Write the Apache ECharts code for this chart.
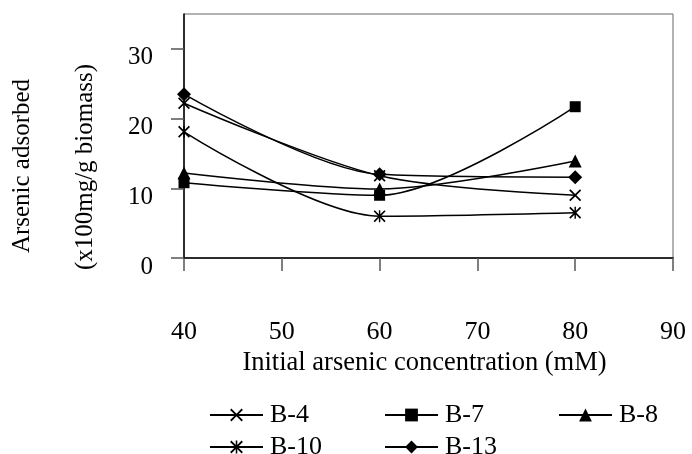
<!DOCTYPE html>
<html>
<head>
<meta charset="utf-8">
<script src="https://cdn.jsdelivr.net/npm/echarts@6/dist/echarts.min.js"></script>
<style>
html,body{margin:0;padding:0;background:#fff;}
#chart{width:692px;height:454px;}
</style>
</head>
<body>
<div id="chart"></div>
<script>
var xValues = [40, 60, 80];
var seriesNames = ['B-4', 'B-7', 'B-8', 'B-10', 'B-13'];
var b4  = [22.2, 11.8, 9.0];
var b7  = [10.8, 9.0, 21.7];
var b8  = [12.2, 9.9, 13.9];
var b10 = [18.1, 6.0, 6.5];
var b13 = [23.5, 12.0, 11.6];
var yTicks = [0, 10, 20, 30];
var xTicks = [40, 50, 60, 70, 80, 90];

var FONT = '"Liberation Serif", "Times New Roman", serif';
var FS = 25;
var FSX = 26.5;

var crossPath = 'path://M0,1L1,0L5,4L9,0L10,1L6,5L10,9L9,10L5,6L1,10L0,9L4,5Z';
var starPath = 'path://M0,1L1,0L5,4L9,0L10,1L6,5L10,9L9,10L5,6L1,10L0,9L4,5Z M4.4,0L5.6,0L5.6,10L4.4,10Z';

function pairs(vals) {
  return xValues.map(function (x, i) { return [x, vals[i]]; });
}

var symbols = {
  'B-4': {symbol: crossPath, size: 12},
  'B-7': {symbol: 'rect', size: 11},
  'B-8': {symbol: 'triangle', size: 13},
  'B-10': {symbol: starPath, size: 12},
  'B-13': {symbol: 'diamond', size: 14}
};
var values = {'B-4': b4, 'B-7': b7, 'B-8': b8, 'B-10': b10, 'B-13': b13};

var series = seriesNames.map(function (n) {
  return {
    name: n,
    type: 'line',
    smooth: 0.3,
    data: pairs(values[n]),
    symbol: symbols[n].symbol,
    symbolSize: symbols[n].size,
    showAllSymbol: true,
    lineStyle: {color: '#000', width: 1.5},
    itemStyle: {color: '#000', borderWidth: 0},
    emphasis: {disabled: true},
    animation: false
  };
});

function legendFor(name, left, top) {
  return {
    data: [name],
    orient: 'horizontal',
    left: left,
    top: top,
    itemWidth: 53,
    itemHeight: 16,
    padding: 0,
    textStyle: {fontFamily: FONT, fontSize: 26, color: '#000', padding: [0, 0, 0, 2]},
    selectedMode: false
  };
}

var option = {
  animation: false,
  backgroundColor: '#fff',
  grid: {left: 184, top: 14, right: 19, bottom: 196, show: true, borderColor: '#666', borderWidth: 1},
  xAxis: {
    type: 'value',
    min: 40, max: 90, interval: 10,
    name: 'Initial arsenic concentration (mM)',
    nameLocation: 'middle',
    nameGap: 90,
    nameTextStyle: {fontFamily: FONT, fontSize: FSX, color: '#000', padding: [0, 8, 0, 0]},
    axisLine: {show: true, onZero: false, lineStyle: {color: '#000', width: 1.5}},
    axisTick: {show: true, inside: false, length: 13, lineStyle: {color: '#555', width: 1.5}, customValues: xTicks},
    axisLabel: {fontFamily: FONT, fontSize: 26, color: '#000', margin: 61, customValues: xTicks},
    splitLine: {show: false}
  },
  yAxis: {
    type: 'value',
    min: 0, max: 35, interval: 10,
    axisLine: {show: true, onZero: false, lineStyle: {color: '#000', width: 1.5}},
    axisTick: {show: true, inside: false, length: 13, lineStyle: {color: '#555', width: 1.5}, customValues: yTicks},
    axisLabel: {fontFamily: FONT, fontSize: FS, color: '#000', margin: 31, verticalAlign: 'top', lineHeight: 18, customValues: yTicks},
    splitLine: {show: false}
  },
  legend: [
    legendFor('B-4', 209, 402),
    legendFor('B-7', 384, 402),
    legendFor('B-8', 558, 402),
    legendFor('B-10', 209, 434),
    legendFor('B-13', 384, 434)
  ],
  graphic: [
    {type: 'text', x: 22, y: 166, rotation: Math.PI / 2,
     style: {text: 'Arsenic adsorbed', font: FS + 'px ' + FONT, fill: '#000', align: 'center', verticalAlign: 'middle'}},
    {type: 'text', x: 85, y: 167, rotation: Math.PI / 2,
     style: {text: '(x100mg/g biomass)', font: FS + 'px ' + FONT, fill: '#000', align: 'center', verticalAlign: 'middle'}}
  ],
  series: series
};

var chart = echarts.init(document.getElementById('chart'), null, {renderer: 'canvas'});
chart.setOption(option);
</script>
</body>
</html>
